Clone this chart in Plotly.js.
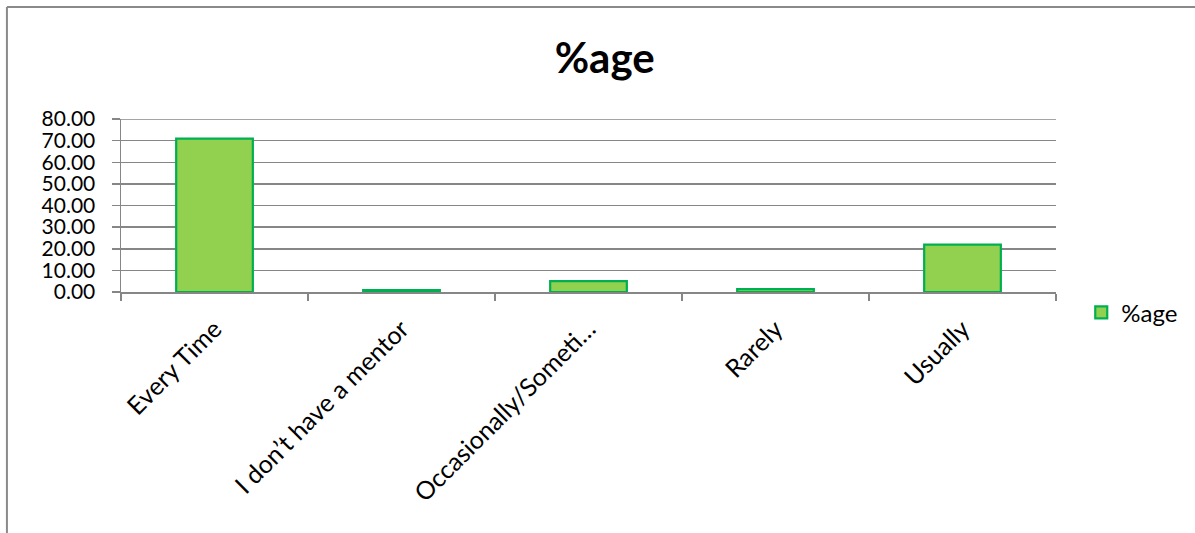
<!DOCTYPE html>
<html>
<head>
<meta charset="utf-8">
<script src="https://cdn.plot.ly/plotly-3.0.1.min.js"></script>
<style>html,body{margin:0;padding:0;background:#fff;}#chart{width:1195px;height:533px;}</style>
</head>
<body>
<div id="chart"></div>
<script>
const categories = ["Every Time", "I don’t have a mentor", "Occasionally/Someti…", "Rarely", "Usually"];
const seriesName = "%age";
const values = [70.9, 0.9, 5.0, 1.3, 21.9];
const yTicks = [0, 10, 20, 30, 40, 50, 60, 70, 80];

const FONT = "Lato, 'Open Sans', 'DejaVu Sans', sans-serif";
const yMax = yTicks[yTicks.length - 1];

const trace = {
  type: 'bar',
  x: categories,
  y: values,
  name: seriesName,
  width: 0.41,
  marker: {color: '#92D050', line: {color: '#00B050', width: 2.2}},
  showlegend: true
};

const layout = {
  width: 1195, height: 533,
  margin: {l: 121, r: 139, t: 119, b: 241, autoexpand: false},
  paper_bgcolor: '#ffffff', plot_bgcolor: '#ffffff',
  font: {family: FONT, color: '#000000'},
  title: {text: '<b>%age</b>', x: 0.506, xref: 'container', xanchor: 'center', y: 0.891, yanchor: 'middle',
          font: {family: FONT, size: 42, color: '#000000'}},
  xaxis: {
    type: 'category',
    tickangle: -45,
    tickfont: {size: 25, family: FONT},
    ticks: 'outside', ticklen: 7, tickcolor: '#868686', tickwidth: 1.5,
    tickson: 'boundaries',
    ticklabelstandoff: 11,
    showline: true, linecolor: '#868686', linewidth: 1.5,
    showgrid: false, automargin: false
  },
  yaxis: {
    range: [0, yMax],
    tickvals: yTicks,
    tickformat: '.2f',
    tickfont: {size: 21, family: FONT},
    ticks: 'outside', ticklen: 8, tickcolor: '#868686', tickwidth: 1.5,
    ticklabelstandoff: 12,
    showline: true, linecolor: '#868686', linewidth: 1.5,
    showgrid: true, gridcolor: '#868686', gridwidth: 1.5,
    zeroline: false, automargin: false
  },
  showlegend: true,
  legend: {x: 1.027, xanchor: 'left', y: -0.12, yanchor: 'middle',
           font: {size: 24, family: FONT}, itemwidth: 30, bgcolor: 'rgba(0,0,0,0)'},
  shapes: [
    // top gridline (Plotly omits the gridline lying on the plot edge)
    {type: 'line', xref: 'paper', yref: 'y', x0: 0, x1: 1, y0: yMax, y1: yMax,
     line: {color: '#868686', width: 1.5}, layer: 'below'},
    // chart-area border (top and left visible)
    {type: 'line', xref: 'paper', yref: 'paper', x0: -0.122, x1: 1.2, y0: 1.648, y1: 1.648,
     line: {color: '#8a8a8a', width: 2}},
    {type: 'line', xref: 'paper', yref: 'paper', x0: -0.122, x1: -0.122, y0: 1.648, y1: -1.5,
     line: {color: '#8a8a8a', width: 2}}
  ]
};

Plotly.newPlot('chart', [trace], layout, {displayModeBar: false, staticPlot: true});
</script>
</body>
</html>
